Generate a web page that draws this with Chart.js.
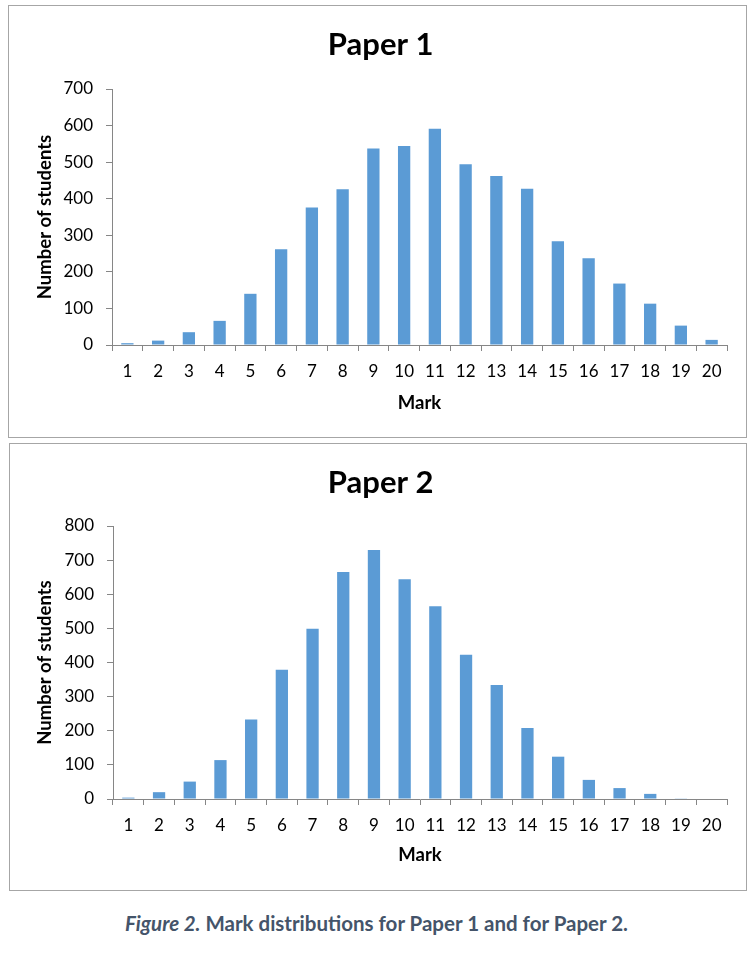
<!DOCTYPE html>
<html>
<head>
<meta charset="utf-8">
<script src="https://cdn.jsdelivr.net/npm/chart.js@4"></script>
<style>
  body { margin: 0; background: #fff; width: 753px; height: 977px; position: relative; }
  .box { position: absolute; box-sizing: border-box; border: 1px solid #a6a6a6; background: #fff; }
  .box canvas { position: absolute; left: 0; top: 0; }
  #caption { position: absolute; left: 0; width: 753px; top: 911px; text-align: center;
             font-family: Lato, sans-serif; font-weight: bold; font-size: 20.5px; color: #44546a; }
</style>
</head>
<body>
<div class="box" style="left:8px; top:5px; width:739px; height:433px;">
  <canvas id="paper1" width="737" height="431"></canvas>
</div>
<div class="box" style="left:9px; top:443px; width:738px; height:448px;">
  <canvas id="paper2" width="736" height="446"></canvas>
</div>
<div id="caption"><i>Figure 2.</i> Mark distributions for Paper 1 and for Paper 2.</div>

<script>
const marks = ['1','2','3','4','5','6','7','8','9','10','11','12','13','14','15','16','17','18','19','20'];
const paper1Counts = [5, 12, 35, 66, 140, 262, 376, 426, 537, 544, 591, 494, 462, 427, 284, 237, 168, 113, 53, 14];
const paper2Counts = [4, 20, 51, 114, 233, 379, 499, 665, 730, 644, 565, 423, 334, 208, 124, 56, 32, 15, 2, 0];
const paper1Max = 700;
const paper2Max = 800;

Chart.defaults.font.family = 'Lato';
Chart.defaults.color = '#000';

function makeMarkChart(canvasId, title, counts, yMax, lay) {
    const ctx = document.getElementById(canvasId).getContext('2d');

    return new Chart(ctx, {
        type: 'bar',
        data: {
            labels: marks,
            datasets: [{
                label: title,
                data: counts,
                backgroundColor: '#5b9bd5',
                categoryPercentage: 1,
                barPercentage: 0.4
            }]
        },
        options: {
            responsive: false,
            animation: false,
            layout: {
                padding: { left: lay.left, right: lay.right, top: 0, bottom: lay.bottom }
            },
            scales: {
                x: {
                    afterFit: (s) => { s.height = lay.xHeight; },
                    grid: { drawOnChartArea: false, tickLength: 6, color: '#868686' },
                    border: { color: '#868686' },
                    ticks: { font: { size: 17 }, padding: 10.5, color: '#000' },
                    title: { display: true, text: 'Mark', font: { size: 18.5, weight: 'bold' }, padding: 0, color: '#000' }
                },
                y: {
                    min: 0,
                    max: yMax,
                    afterFit: (s) => { s.width = lay.yWidth; },
                    grid: { drawOnChartArea: false, tickLength: 6, color: '#868686' },
                    border: { color: '#868686' },
                    ticks: { stepSize: 100, font: { size: 17 }, padding: 13, color: '#000' },
                    title: { display: true, text: 'Number of students', font: { size: 18.5, weight: 'bold' }, padding: 0, color: '#000' }
                }
            },
            plugins: {
                legend: { display: false },
                tooltip: { enabled: false },
                title: {
                    display: true,
                    text: title,
                    color: '#000',
                    font: { size: 31, weight: 'bold' },
                    padding: { top: lay.titleTop, bottom: lay.titleBottom }
                }
            }
        }
    });
}

makeMarkChart('paper1', 'Paper 1', paper1Counts, paper1Max,
    { left: 25.4, right: 19, bottom: 22.9, xHeight: 69.1, yWidth: 77.6, titleTop: 20.4, titleBottom: 25.4 });
makeMarkChart('paper2', 'Paper 2', paper2Counts, paper2Max,
    { left: 24.4, right: 19, bottom: 23.9, xHeight: 67.1, yWidth: 78.6, titleTop: 20.4, titleBottom: 24.4 });
</script>
</body>
</html>
